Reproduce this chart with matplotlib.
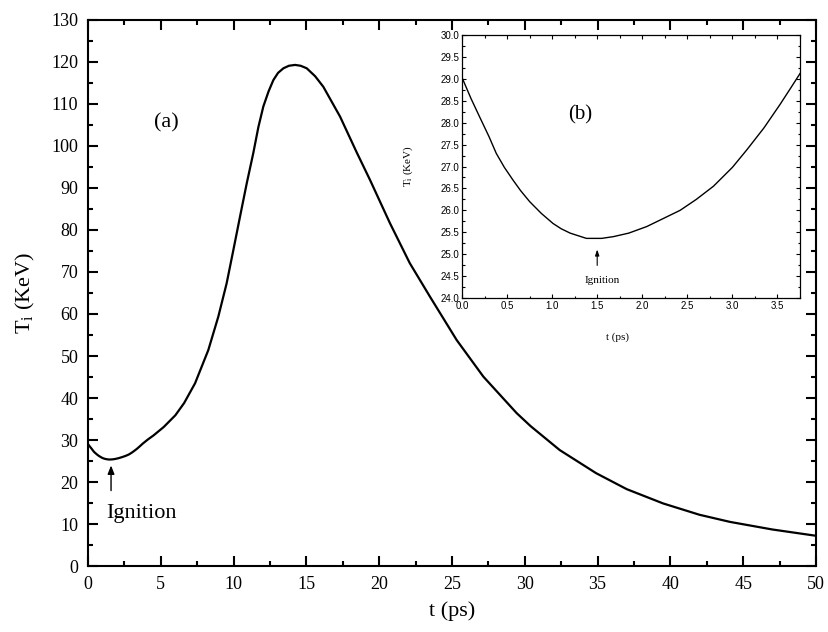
import matplotlib
matplotlib.use('Agg')
from matplotlib import pyplot as pl
from matplotlib.ticker import MultipleLocator

pl.rcParams['font.family'] = ['Liberation Serif', 'DejaVu Serif']
pl.rcParams['mathtext.fontset'] = 'custom'
pl.rcParams['mathtext.rm'] = 'Liberation Serif'

# Ion temperature (t in ps, T in KeV)
t_main = [0.0, 0.1, 0.2, 0.3, 0.38, 0.47, 0.57, 0.65, 0.75, 0.88, 1.0, 1.1,
          1.2, 1.4, 1.55, 1.7, 1.85, 2.05, 2.2, 2.4, 2.6, 2.8, 3.0, 3.16,
          3.35, 3.53, 3.75, 4.1, 4.5, 5.2, 6.0, 6.6, 7.35, 8.26, 8.95, 9.52,
          9.98, 10.44, 10.9, 11.35, 11.7, 12.04, 12.4, 12.73, 13.05, 13.42,
          13.8, 14.22, 14.6, 15.02, 15.6, 16.16, 17.31, 18.45, 19.37, 20.74,
          22.1, 23.49, 25.32, 27.15, 29.44, 30.4, 32.4, 34.9, 37.0, 39.5,
          42.0, 44.1, 47.0, 50.0]
T_main = [29.03, 28.55, 28.13, 27.68, 27.3, 26.98, 26.69, 26.45, 26.2,
          25.93, 25.7, 25.58, 25.48, 25.36, 25.36, 25.4, 25.48, 25.63, 25.78,
          26.0, 26.25, 26.55, 26.98, 27.38, 27.88, 28.42, 29.12, 30.1, 31.1,
          33.1, 35.9, 38.8, 43.5, 51.4, 59.4, 67.3, 75.2, 83.2, 91.1, 98.3,
          104.5, 109.4, 113.0, 115.7, 117.4, 118.5, 119.1, 119.3, 119.1,
          118.5, 116.6, 114.1, 107.0, 98.5, 91.9, 81.6, 72.1, 64.1, 53.8,
          45.1, 36.4, 33.3, 27.6, 22.1, 18.3, 14.9, 12.2, 10.5, 8.7, 7.2]

# Zoomed-in part around the ignition point
t_zoom = [0.0, 0.1, 0.196, 0.3, 0.38, 0.47, 0.566, 0.65, 0.75, 0.88, 1.01,
          1.1, 1.2, 1.38, 1.55, 1.68, 1.85, 2.05, 2.2, 2.42, 2.6, 2.79, 3.0,
          3.16, 3.35, 3.53, 3.65, 3.75]
T_zoom = [29.03, 28.55, 28.13, 27.68, 27.3, 26.98, 26.69, 26.45, 26.2,
          25.93, 25.7, 25.58, 25.48, 25.36, 25.36, 25.4, 25.48, 25.63, 25.78,
          26.0, 26.25, 26.55, 26.98, 27.38, 27.88, 28.42, 28.8, 29.12]

fig = pl.figure(figsize=(8.29, 6.32), dpi=100)
ax = fig.add_axes([0.1062, 0.1044, 0.8781, 0.864])

ax.plot(t_main, T_main, color='k', linewidth=1.6)
ax.set_xlim(0, 50)
ax.set_ylim(0, 130)
ax.xaxis.set_major_locator(MultipleLocator(5))
ax.xaxis.set_minor_locator(MultipleLocator(2.5))
ax.yaxis.set_major_locator(MultipleLocator(10))
ax.yaxis.set_minor_locator(MultipleLocator(5))
ax.tick_params(which='both', direction='in', top=True, right=True,
               width=1.5, labelsize=13)
ax.tick_params(which='major', length=7, pad=7)
ax.tick_params(which='minor', length=3.5)
for s in ax.spines.values():
    s.set_linewidth(1.5)
ax.set_xlabel('t (ps)', fontsize=16, labelpad=6)
ax.set_ylabel(r'T$_\mathregular{i}$ (KeV)', fontsize=16, labelpad=10)

ax.text(5.4, 105.5, '(a)', fontsize=16, ha='center', va='center')
ax.annotate('', xy=(1.58, 24.6), xytext=(1.58, 17.3),
            arrowprops=dict(arrowstyle='-|>,head_width=0.2,head_length=0.5',
                            color='k', lw=1.0))
ax.text(3.68, 12.5, 'Ignition', fontsize=16, ha='center', va='center')

# Inset
ins = fig.add_axes([0.5573, 0.5285, 0.4077, 0.4161])
ins.plot(t_zoom, T_zoom, color='k', linewidth=1.0)
ins.set_xlim(0, 3.75)
ins.set_ylim(24, 30)
ins.xaxis.set_major_locator(MultipleLocator(0.5))
ins.xaxis.set_minor_locator(MultipleLocator(0.25))
ins.yaxis.set_major_locator(MultipleLocator(0.5))
ins.yaxis.set_minor_locator(MultipleLocator(0.25))
ins.xaxis.set_major_formatter('{x:.1f}')
ins.yaxis.set_major_formatter('{x:.1f}')
ins.tick_params(which='both', direction='in', top=True, right=True,
                width=0.8, labelsize=7, pad=2)
ins.tick_params(which='major', length=3)
ins.tick_params(which='minor', length=1.8)
for lab in ins.get_xticklabels() + ins.get_yticklabels():
    lab.set_family('Liberation Sans')
for s in ins.spines.values():
    s.set_linewidth(0.9)
ins.set_xlabel('t (ps)', fontsize=8)
ins.xaxis.set_label_coords(0.459, -0.13)
ins.set_ylabel(r'T$_\mathregular{i}$ (KeV)', fontsize=8, labelpad=18)

ins.text(1.31, 28.17, '(b)', fontsize=15, ha='center', va='center')
ins.annotate('', xy=(1.5, 25.17), xytext=(1.5, 24.68),
             arrowprops=dict(arrowstyle='-|>,head_width=0.12,head_length=0.35',
                             color='k', lw=0.8))
ins.text(1.56, 24.39, 'Ignition', fontsize=8, ha='center', va='center')

fig.savefig('out.png', dpi=100)
